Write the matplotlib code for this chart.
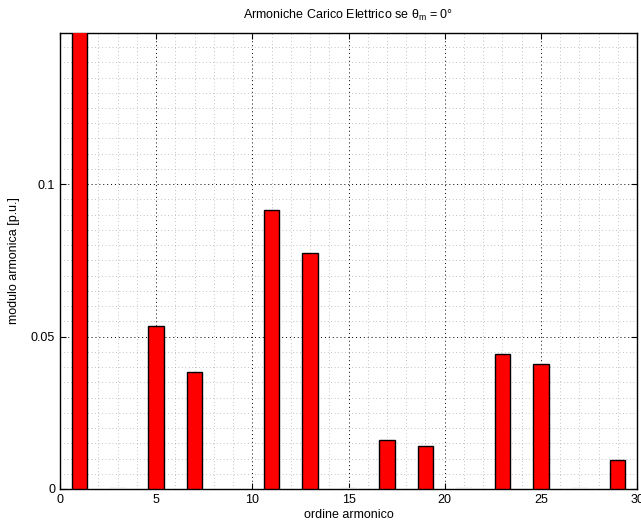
import matplotlib
matplotlib.use('Agg')
import numpy as np
import matplotlib.pyplot as plt
from matplotlib.ticker import MultipleLocator

plt.rcParams['font.family'] = ['Liberation Sans', 'DejaVu Sans']
plt.rcParams['mathtext.fontset'] = 'custom'
plt.rcParams['mathtext.rm'] = 'Liberation Sans'
plt.rcParams['mathtext.it'] = 'Liberation Sans'

# harmonic orders and their magnitudes (p.u.)
orders = [1, 3, 5, 7, 9, 11, 13, 15, 17, 19, 21, 23, 25, 27, 29]
moduli = [1.0, 0.0003, 0.0536, 0.0383, 0.0, 0.0914, 0.0775, 0.0003,
          0.0160, 0.0142, 0.0003, 0.0444, 0.0410, 0.0003, 0.0095]

fig = plt.figure(figsize=(6.41, 5.25), dpi=100)
ax = fig.add_axes([0.0936, 0.0686, 0.9002, 0.8691])

# near-zero harmonics only leave a faint trace on the baseline
edges = ['black' if m > 0.001 else '#c8c8c8' for m in moduli]
ax.bar(orders, moduli, width=0.8, color='red', edgecolor=edges, linewidth=1.0, zorder=3)

ax.set_xlim(0, 30)
ax.set_ylim(0, 0.1497)
ax.xaxis.set_major_locator(MultipleLocator(5))
ax.xaxis.set_minor_locator(MultipleLocator(1))
ax.set_yticks([0, 0.05, 0.1])
ax.set_yticklabels(['0', '0.05', '0.1'])
ax.yaxis.set_minor_locator(MultipleLocator(0.005))

ax.grid(which='major', linestyle=(0, (1, 3)), color='black', linewidth=0.7, zorder=0)
ax.grid(which='minor', linestyle=(0, (1, 4)), color='#8c8c8c', linewidth=0.5, zorder=0)
ax.set_axisbelow(True)

ax.tick_params(which='both', direction='in', top=True, right=True, labelsize=9)
ax.tick_params(which='major', length=4, width=0.8)
ax.tick_params(which='minor', length=0)
for s in ax.spines.values():
    s.set_linewidth(1.0)

ax.set_title(r'Armoniche Carico Elettrico se $\theta_m$ = 0°', fontsize=9, pad=10)
ax.set_xlabel('ordine armonico', fontsize=9, labelpad=2)
ax.set_ylabel('modulo armonica [p.u.]', fontsize=9, labelpad=8)

fig.savefig('out.png', dpi=100)
